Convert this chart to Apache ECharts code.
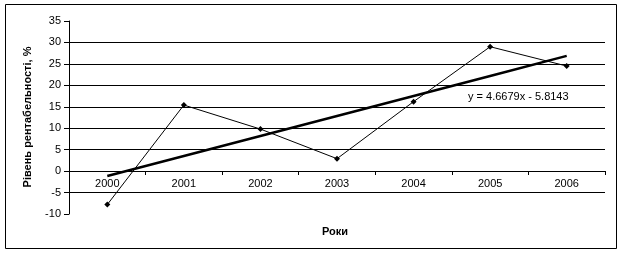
<!DOCTYPE html>
<html><head><meta charset="utf-8">
<script src="https://cdn.jsdelivr.net/npm/echarts@6/dist/echarts.min.js"></script>
<style>html,body{margin:0;padding:0;background:#fff;}#c{width:623px;height:255px;}</style>
</head><body><div id="c"></div>
<script>
const categories = ['2000','2001','2002','2003','2004','2005','2006'];
const values = [-7.8, 15.4, 9.8, 2.9, 16.2, 29.0, 24.5];
const trend = [-1.15, 3.52, 8.19, 12.86, 17.52, 22.19, 26.86];
const yTicks = [-10, 35, 5];
const equation = 'y = 4.6679x - 5.8143';
const yName = 'Рівень рентабельності, %';
const xName = 'Роки';

const chart = echarts.init(document.getElementById('c'), null, {renderer:'canvas'});
const F = 'Liberation Sans, Arial, sans-serif';
chart.setOption({
  animation:false,
  backgroundColor:'#fff',
  grid:{left:69, right:18, top:21, bottom:41},
  xAxis:{
    type:'category', data:categories, boundaryGap:true,
    position:'bottom', offset:-43,
    axisLine:{onZero:false, lineStyle:{color:'#000', width:1}},
    axisTick:{show:true, inside:false, length:4, lineStyle:{color:'#000'}},
    axisLabel:{color:'#000', fontFamily:F, fontSize:11, margin:7},
    splitLine:{show:false}
  },
  yAxis:{
    type:'value', min:yTicks[0], max:yTicks[1], interval:yTicks[2],
    axisLine:{show:true, lineStyle:{color:'#000'}},
    axisTick:{show:true, length:5, lineStyle:{color:'#000'}},
    axisLabel:{color:'#000', fontFamily:F, fontSize:11, margin:8},
    splitLine:{show:true, lineStyle:{color:'#000', width:1},
      showMinLine:false, showMaxLine:false}
  },
  series:[
    {type:'line', data:values, symbol:'diamond', symbolSize:6,
     lineStyle:{color:'#000', width:1}, itemStyle:{color:'#000'}, z:3},
    {type:'line', data:trend, symbol:'none',
     lineStyle:{color:'#000', width:2.5}, z:4}
  ],
  graphic:[
    {type:'rect', shape:{x:5.5, y:4.5, width:611, height:244}, style:{fill:'none', stroke:'#000', lineWidth:1}, silent:true},
    {type:'text', left:468, top:91, style:{text:equation, font:'11px '+F, fill:'#000'}},
    {type:'text', x:28, y:117, rotation:Math.PI/2, style:{text:yName, font:'bold 11px '+F, fill:'#000', align:'center', verticalAlign:'middle'}},
    {type:'text', left:322, top:226, style:{text:xName, font:'bold 11px '+F, fill:'#000'}}
  ]
});
</script></body></html>
